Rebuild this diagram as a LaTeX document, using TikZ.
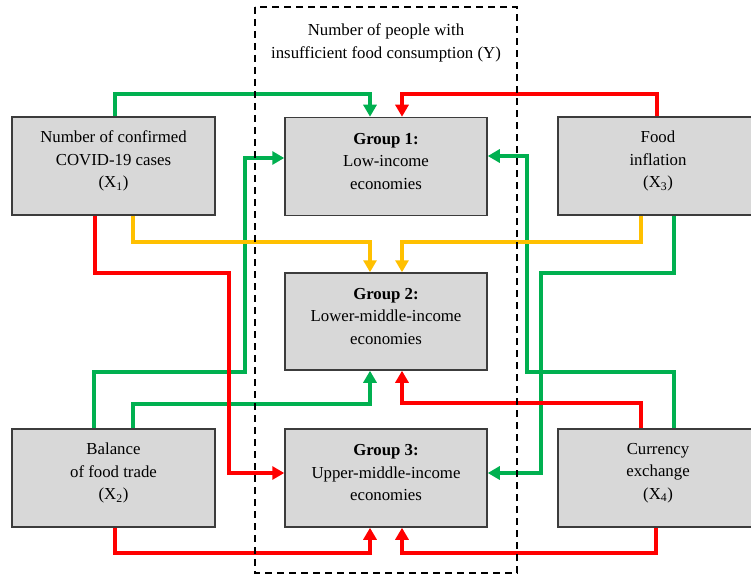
\documentclass[tikz,border=0pt]{standalone}
\usepackage{fontspec}
\setmainfont{Liberation Serif}
\usetikzlibrary{arrows.meta}

\definecolor{boxfill}{RGB}{216,216,216}
\definecolor{boxline}{RGB}{60,60,60}
\definecolor{lgreen}{RGB}{0,176,80}
\definecolor{lred}{RGB}{255,0,0}
\definecolor{lyellow}{RGB}{255,192,0}

\tikzset{
  box/.style={draw=boxline, fill=boxfill, line width=1.5pt, inner sep=0pt},
  boxtext/.style={align=center, font=\fontsize{16.8}{22.5}\selectfont, inner sep=0pt},
  link/.style={line width=4.5pt, -{Triangle[length=12pt,width=13pt]}},
  glink/.style={link, draw=lgreen},
  rlink/.style={link, draw=lred},
  ylink/.style={link, draw=lyellow},
}

\begin{document}
\begin{tikzpicture}[x=1pt, y=-1pt]
\useasboundingbox (0,0) rectangle (751,575);
\clip (0,0) rectangle (751,575);
\fill[white] (0,0) rectangle (751,575);

% factor boxes (X1..X4)
\node[box, minimum width=203pt, minimum height=98pt] (x1) at (113.5,166) {};
\node[box, minimum width=203pt, minimum height=98pt] (x2) at (113.5,478) {};
\node[box, minimum width=200pt, minimum height=98pt] (x3) at (658,166) {};
\node[box, minimum width=200pt, minimum height=98pt] (x4) at (658,478) {};

% income groups
\node[box, minimum width=202pt, minimum height=98pt] (g1) at (386,166.5) {};
\node[box, minimum width=202pt, minimum height=97pt] (g2) at (386,321.5) {};
\node[box, minimum width=202pt, minimum height=98pt] (g3) at (386,478) {};

% box labels
\node[boxtext, yshift=5pt] (x1t) at (x1.center) {Number of confirmed\\COVID-19 cases\\(X\textsubscript{1})};
\node[boxtext, yshift=5pt] (x2t) at (x2.center) {Balance\\of food trade\\(X\textsubscript{2})};
\node[boxtext, yshift=5pt] (x3t) at (x3.center) {Food\\inflation\\(X\textsubscript{3})};
\node[boxtext, yshift=5pt] (x4t) at (x4.center) {Currency\\exchange\\(X\textsubscript{4})};
\node[boxtext, yshift=5pt] (g1t) at (g1.center) {\textbf{Group 1:}\\Low-income\\economies};
\node[boxtext, yshift=5pt] (g2t) at (g2.center) {\textbf{Group 2:}\\Lower-middle-income\\economies};
\node[boxtext, yshift=5pt] (g3t) at (g3.center) {\textbf{Group 3:}\\Upper-middle-income\\economies};

% green links
\draw[glink] (x1.north -| 115,0) |- (370,94) -- (g1.north -| 370,0);
\draw[glink] (x2.north -| 94,0) |- (245,372) |- (g1.west |- 0,158);
\draw[glink] (x2.north -| 133,0) |- (370,404) -- (g2.south -| 370,0);
\draw[glink] (x3.south -| 674,0) |- (541,273) |- (g3.east |- 0,473);
\draw[glink] (x4.north -| 674,0) |- (527,372) |- (g1.east |- 0,156);

% yellow links
\draw[ylink] (x1.south -| 133,0) |- (370,242) -- (g2.north -| 370,0);
\draw[ylink] (x3.south -| 641,0) |- (402,242) -- (g2.north -| 402,0);

% red links
\draw[rlink] (x3.north -| 657,0) |- (402,94) -- (g1.north -| 402,0);
\draw[rlink] (x1.south -| 95,0) |- (229,273) |- (g3.west |- 0,473);
\draw[rlink] (x4.north -| 641,0) |- (402,403) -- (g2.south -| 402,0);
\draw[rlink] (x2.south -| 115,0) |- (370,553) -- (g3.south -| 370,0);
\draw[rlink] (x4.south -| 656,0) |- (402,553) -- (g3.south -| 402,0);

% outcome frame (Y)
\draw[black, line width=1.5pt, dash pattern=on 7pt off 5pt] (255,7) rectangle (517,573);
\node[boxtext] (ytitle) at (386,43) {Number of people with\\insufficient food consumption (Y)};
\end{tikzpicture}
\end{document}
